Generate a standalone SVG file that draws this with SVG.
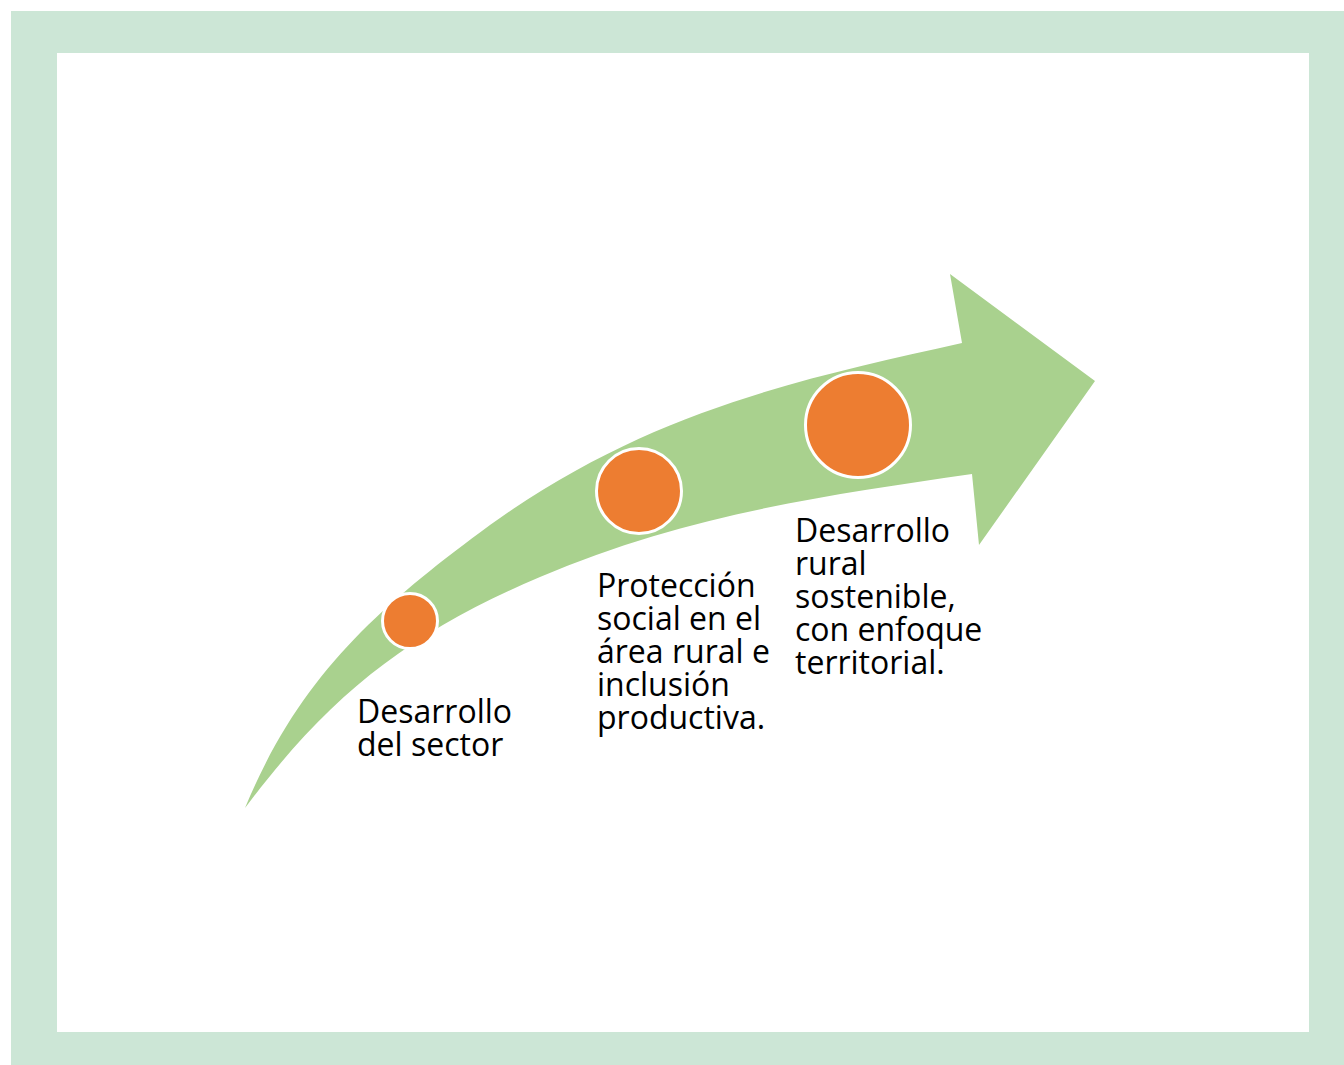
<svg xmlns="http://www.w3.org/2000/svg" width="1344" height="1065" viewBox="0 0 1344 1065">
<style>
.lbl{font-family:"Open Sans","Liberation Sans",sans-serif;font-size:32px;fill:#000}
.dot{fill:#ED7D31;stroke:#fff;stroke-width:3}
</style>
<rect x="0" y="0" width="1344" height="1065" fill="#fff"/>
<rect x="11" y="11" width="1333" height="1054" fill="#CCE6D6"/>
<rect x="57" y="53" width="1252" height="979" fill="#fff"/>
<g id="arrow">
<path d="M245,808 C300,675 380,606 490,525 C650,410 802,379 962,343 L950,274 L1095,381 L979,545 L972,474 C827,495 685,515 540,577 C411,632 332,692 245,808 Z" fill="#A9D18E"/>
</g>
<g id="node1">
<circle class="dot" cx="410" cy="621" r="27.5"/>
<text class="lbl" x="357" y="723">Desarrollo</text>
<text class="lbl" x="357" y="756">del sector</text>
</g>
<g id="node2">
<circle class="dot" cx="639" cy="491" r="42.5"/>
<text class="lbl" x="597" y="597">Protección</text>
<text class="lbl" x="597" y="630">social en el</text>
<text class="lbl" x="597" y="663">área rural e</text>
<text class="lbl" x="597" y="696">inclusión</text>
<text class="lbl" x="597" y="729">productiva.</text>
</g>
<g id="node3">
<circle class="dot" cx="858" cy="425" r="52.5"/>
<text class="lbl" x="795" y="542">Desarrollo</text>
<text class="lbl" x="795" y="575">rural</text>
<text class="lbl" x="795" y="608">sostenible,</text>
<text class="lbl" x="795" y="641">con enfoque</text>
<text class="lbl" x="795" y="674">territorial.</text>
</g>
</svg>
